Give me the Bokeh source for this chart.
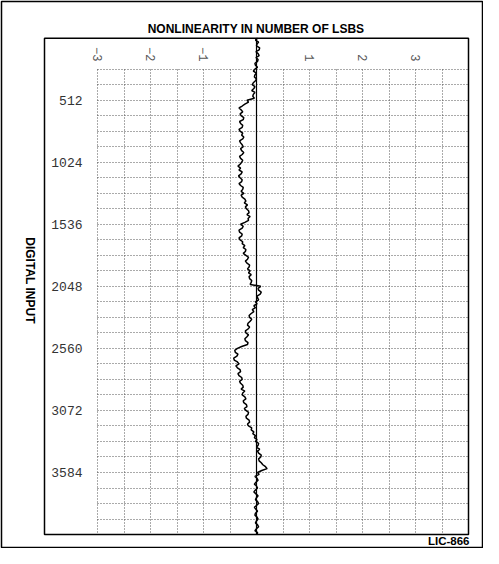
import math
from bokeh.plotting import figure
from bokeh.models import Range1d, FixedTicker, Grid
from bokeh.core.properties import value
from bokeh.embed import file_html
from bokeh.resources import INLINE

# ---------------- data ----------------
TITLE = "NONLINEARITY IN NUMBER OF LSBS"
Y_TITLE = "DIGITAL INPUT"
FIG_CODE = "LIC-866"

Y_TICKS = [512, 1024, 1536, 2048, 2560, 3072, 3584]
X_TICKS = [-3, -2, -1, 1, 2, 3]
X_GRID = [-3, -2.5, -2, -1.5, -1, -0.5, 0.5, 1, 1.5, 2, 2.5, 3, 3.5]
Y_GRID = [256, 384, 512, 640, 768, 896, 1024, 1152, 1280, 1408, 1536, 1664,
          1792, 1920, 2048, 2176, 2304, 2432, 2560, 2688, 2816, 2944, 3072,
          3200, 3328, 3456, 3584, 3712, 3840, 3968]

DIGITAL_INPUT = list(range(0, 4097, 16))
NONLINEARITY = [
    0.02, -0.02, 0.04, 0.01, 0.00, 0.06, 0.05, -0.01, 0.03, 0.05, -0.01, 0.03, 0.02, -0.03, -0.02, 0.02,
    -0.03, -0.06, 0.00, -0.03, -0.04, 0.00, -0.02, -0.06, -0.08, -0.03, -0.05, -0.09, -0.03, -0.06, -0.07, -0.04,
    -0.18, -0.15, -0.22, -0.27, -0.33, -0.29, -0.26, -0.31, -0.29, -0.24, -0.25, -0.32, -0.30, -0.26, -0.27, -0.33,
    -0.31, -0.26, -0.28, -0.24, -0.26, -0.32, -0.30, -0.27, -0.25, -0.30, -0.28, -0.24, -0.27, -0.32, -0.30, -0.26,
    -0.28, -0.31, -0.35, -0.30, -0.33, -0.27, -0.29, -0.34, -0.31, -0.27, -0.28, -0.33, -0.30, -0.25, -0.26, -0.29,
    -0.24, -0.29, -0.27, -0.22, -0.20, -0.23, -0.17, -0.21, -0.19, -0.15, -0.14, -0.18, -0.12, -0.16, -0.15, -0.22,
    -0.30, -0.25, -0.27, -0.33, -0.32, -0.27, -0.28, -0.33, -0.31, -0.26, -0.27, -0.22, -0.25, -0.20, -0.21, -0.25,
    -0.20, -0.15, -0.17, -0.21, -0.18, -0.13, -0.14, -0.17, -0.12, -0.15, -0.10, -0.14, -0.13, -0.09, -0.10, -0.12,
    0.08, 0.03, 0.04, 0.09, 0.07, 0.01, 0.02, 0.04, -0.02, 0.01, -0.05, -0.02, -0.08, -0.05, -0.10, -0.14,
    -0.13, -0.09, -0.12, -0.16, -0.17, -0.13, -0.16, -0.21, -0.20, -0.15, -0.18, -0.22, -0.21, -0.16, -0.17, -0.28,
    -0.36, -0.41, -0.40, -0.35, -0.37, -0.43, -0.42, -0.36, -0.33, -0.39, -0.36, -0.31, -0.30, -0.35, -0.33, -0.28,
    -0.27, -0.32, -0.30, -0.26, -0.25, -0.29, -0.22, -0.26, -0.27, -0.22, -0.20, -0.25, -0.24, -0.19, -0.18, -0.23,
    -0.20, -0.15, -0.16, -0.20, -0.19, -0.14, -0.13, -0.17, -0.15, -0.09, -0.10, -0.05, -0.07, -0.02, -0.04, 0.01,
    -0.02, 0.04, 0.03, 0.00, 0.06, 0.02, 0.04, 0.09, 0.08, 0.04, 0.05, 0.09, 0.12, 0.17, 0.20, 0.10,
    0.02, 0.05, -0.03, 0.01, 0.03, -0.01, -0.04, 0.00, 0.02, -0.02, -0.05, -0.01, 0.03, 0.00, -0.02, 0.02,
    0.04, 0.00, -0.04, -0.01, 0.02, -0.02, -0.03, 0.01, 0.03, 0.00, -0.02, 0.02, 0.04, 0.00, -0.03, 0.02,
    0.01,
]

# ---------------- geometry (canvas pixels) ----------------
W, H = 483, 548
PX_PER_LSB = 53.0
ZERO_PX = 256.0          # canvas x of 0 LSB
PX_PER_CODE = 0.12119
CODE0_PX = 37.65         # canvas y of code 0


def px_x(px):
    return (px - ZERO_PX) / PX_PER_LSB


def px_y(py):
    return (py - CODE0_PX) / PX_PER_CODE


p = figure(width=W, height=H, output_backend="svg", toolbar_location=None,
           x_range=Range1d(px_x(1), px_x(W - 1)),
           y_range=Range1d(px_y(H - 1), px_y(1)),
           x_axis_location="above", y_axis_location="left",
           min_border_left=1, min_border_right=1, min_border_top=1,
           min_border_bottom=1)
for g in p.grid:
    g.visible = False
p.background_fill_color = "white"
p.border_fill_color = "white"
p.outline_line_color = "black"
p.outline_line_width = 1.5

# ---------------- grid ----------------
def add_grid(dim, ticks, cross):
    g = Grid(dimension=dim, ticker=FixedTicker(ticks=ticks),
             grid_line_color="#555555", grid_line_dash="1 2", grid_line_width=1)
    if hasattr(g, "cross_bounds"):
        g.cross_bounds = cross
        p.add_layout(g, "center")
        return True
    return False

ok_v = add_grid(0, X_GRID, (256, 4096))
ok_h = add_grid(1, Y_GRID, (-3, 4))
if not ok_v:
    p.segment(x0=X_GRID, x1=X_GRID, y0=[256] * len(X_GRID), y1=[4096] * len(X_GRID),
              line_color="#555555", line_dash="1 2", line_width=1)
if not ok_h:
    p.segment(x0=[-3] * len(Y_GRID), x1=[4] * len(Y_GRID), y0=Y_GRID, y1=Y_GRID,
              line_color="#555555", line_dash="1 2", line_width=1)

# inner box and zero line
p.quad(left=[-4], right=[4], top=[0], bottom=[4096], fill_color=None,
       line_color="black", line_width=1.5)
p.segment(x0=[0], x1=[0], y0=[0], y1=[4096], line_color="black", line_width=1.2)

# data trace
p.line(NONLINEARITY, DIGITAL_INPUT, line_color="black", line_width=1.5)

# ---------------- axes ----------------
xa = p.xaxis[0]
xa.ticker = FixedTicker(ticks=X_TICKS)
xa.fixed_location = px_y(61)
xa.axis_line_color = None
xa.major_tick_line_color = None
xa.minor_tick_line_color = None
xa.major_tick_in = 0
xa.major_tick_out = 0
xa.major_label_standoff = 0
xa.major_label_orientation = -math.pi / 2
xa.major_label_text_font = "Liberation Mono"
xa.major_label_text_font_size = "12px"
xa.major_label_text_color = "#555555"

ya = p.yaxis[0]
ya.ticker = FixedTicker(ticks=Y_TICKS)
ya.fixed_location = px_x(82)
ya.axis_line_color = None
ya.major_tick_line_color = None
ya.minor_tick_line_color = None
ya.major_tick_in = 0
ya.major_tick_out = 0
ya.major_label_standoff = 0
ya.major_label_text_font = "Liberation Mono"
ya.major_label_text_font_size = "13px"
ya.major_label_text_color = "#333333"

# ---------------- texts ----------------
p.text(x=[px_x(255.5)], y=[px_y(28)], text=[TITLE],
       text_font=value("Liberation Sans"), text_font_style="bold",
       text_font_size="12px", text_align="center", text_baseline="middle",
       text_color="black")
p.text(x=[px_x(29)], y=[px_y(280)], text=[Y_TITLE], angle=-math.pi / 2,
       text_font=value("Liberation Sans"), text_font_style="bold",
       text_font_size="12px", text_align="center", text_baseline="middle",
       text_color="black")
p.text(x=[px_x(469)], y=[px_y(540)], text=[FIG_CODE],
       text_font=value("Liberation Sans"), text_font_style="bold",
       text_font_size="11.5px", text_align="right", text_baseline="middle",
       text_color="black")

open("out.html", "w").write(file_html(p, INLINE))
